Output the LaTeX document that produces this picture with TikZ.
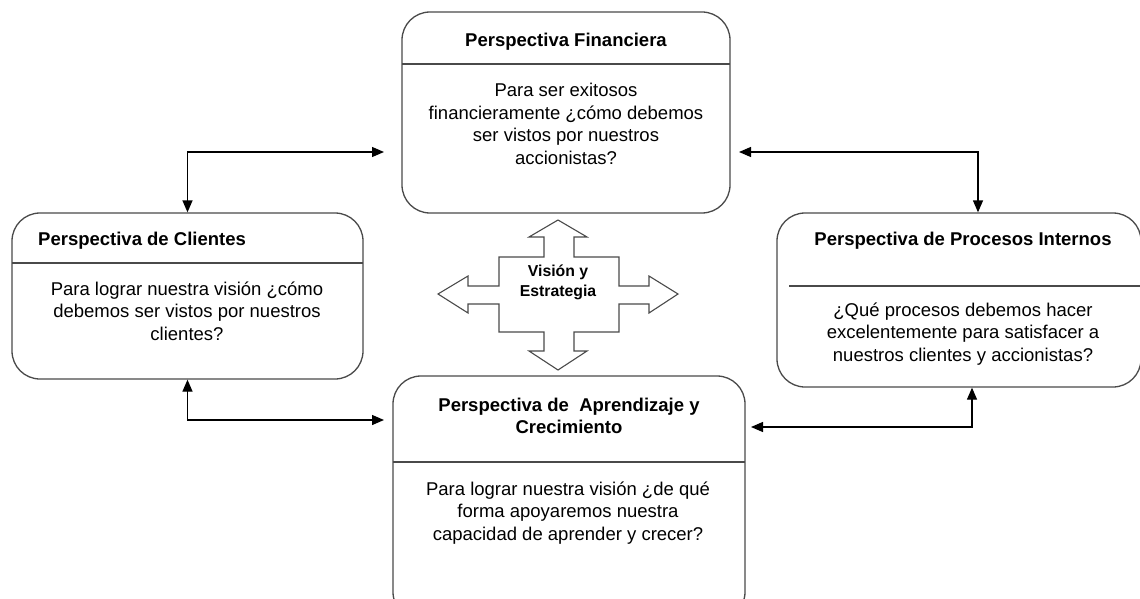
\documentclass[tikz,border=0pt]{standalone}
\usepackage{fontspec}
\setmainfont{Liberation Sans}
\usetikzlibrary{arrows.meta,calc}
\definecolor{boxline}{HTML}{4A4A4A}
\begin{document}
\begin{tikzpicture}[x=1pt,y=-1pt,
  pbox/.style={draw=boxline,line width=1.3pt,rounded corners=28pt,inner sep=0pt},
  sepline/.style={draw=boxline,line width=1.3pt},
  ttl/.style={font=\fontsize{18.5}{22.5}\selectfont\bfseries,align=center,inner sep=0pt},
  bdy/.style={font=\fontsize{18.5}{22.5}\selectfont,align=center,inner sep=0pt},
  conn/.style={draw=black,line width=1.3pt,{Triangle[length=12pt,width=10pt]}-{Triangle[length=12pt,width=10pt]}},
  cross/.style={draw=boxline,line width=1.1pt,fill=white}]
\useasboundingbox (0,0) rectangle (1140,599);
\clip (0,0) rectangle (1140,599);
\fill[white] (0,0) rectangle (1140,599);

% boxes
\node[pbox,minimum width=328pt,minimum height=201pt] (fin) at (566,112.5) {};
\node[pbox,minimum width=351pt,minimum height=166pt] (cl) at (187.5,296) {};
\node[pbox,minimum width=364pt,minimum height=174pt] (pr) at (959,300) {};
\node[pbox,minimum width=352pt,minimum height=244pt] (ap) at (569,498) {};

% separator lines
\draw[sepline] (402,64) -- (730,64);
\draw[sepline] (12,263) -- (363,263);
\draw[sepline] (789,286) -- (1141,286);
\draw[sepline] (393,462) -- (745,462);

% texts
\node[ttl] (finT) at (566,42) {Perspectiva Financiera};
\node[bdy] (finB) at (566,124) {Para ser exitosos\\financieramente ¿cómo debemos\\ser vistos por nuestros\\accionistas?};
\node[ttl,anchor=west] (clT) at (38,241) {Perspectiva de Clientes};
\node[bdy] (clB) at (187,311) {Para lograr nuestra visión ¿cómo\\debemos ser vistos por nuestros\\clientes?};
\node[ttl] (prT) at (963,241) {Perspectiva de Procesos Internos};
\node[bdy] (prB) at (963,334) {¿Qué procesos debemos hacer\\excelentemente para satisfacer a\\nuestros clientes y accionistas?};
\node[ttl] (apT) at (569,416) {Perspectiva de\ \ Aprendizaje y\\Crecimiento};
\node[bdy] (apB) at (568,513) {Para lograr nuestra visión ¿de qué\\forma apoyaremos nuestra\\capacidad de aprender y crecer?};

% central cross arrow
\draw[cross] (558,220) -- (587,237) -- (574,237) -- (574,257) -- (619,257) -- (619,286)
  -- (649,286) -- (649,276) -- (678,294) -- (649,313) -- (649,304) -- (619,304)
  -- (619,332) -- (574,332) -- (574,351) -- (587,351) -- (558,370) -- (529,351)
  -- (544,351) -- (544,332) -- (499,332) -- (499,304) -- (468,304) -- (468,313)
  -- (438,294) -- (468,276) -- (468,286) -- (499,286) -- (499,257) -- (544,257)
  -- (544,237) -- (529,237) -- cycle;
\node[font=\fontsize{15.8}{20}\selectfont\bfseries,align=center,inner sep=0pt] (vs) at (558,282) {Visión y\\Estrategia};

% connectors
\coordinate (c1) at (384,152);
\coordinate (c2) at (739,152);
\coordinate (c3) at (384,420);
\coordinate (c4) at (751,427);
\draw[conn] (cl.north) |- (c1);
\draw[conn] (c2) -| ($(pr.north)+(19,0)$);
\draw[conn] (cl.south) |- (c3);
\draw[conn] (c4) -| ($(pr.south)+(13,0)$);
\end{tikzpicture}
\end{document}
